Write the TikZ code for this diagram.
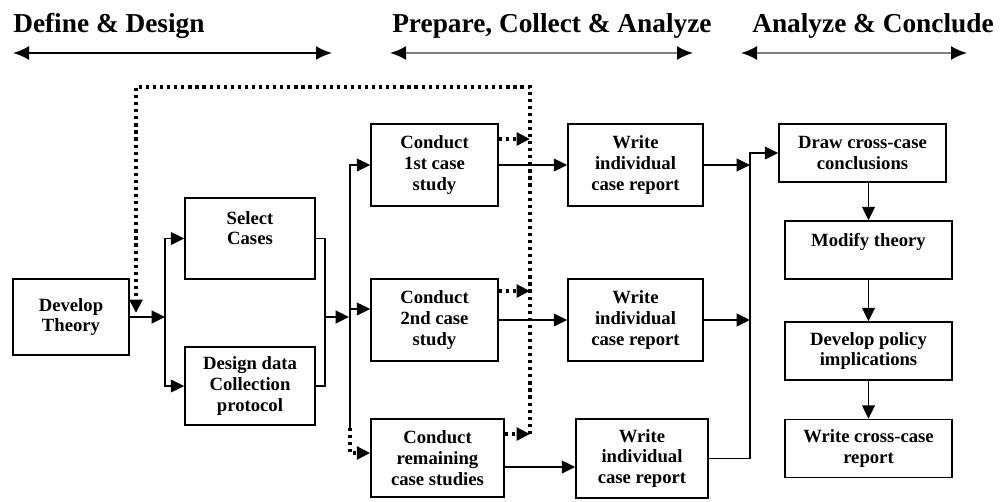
\documentclass[tikz,border=0pt]{standalone}
\usepackage{fontspec}
\setmainfont{Liberation Serif}
\usetikzlibrary{arrows.meta,calc}
\begin{document}
\begin{tikzpicture}[x=0.75pt,y=-0.75pt,
  box/.style={draw, line width=1.2pt, align=center, inner sep=0pt, font=\bfseries\fontsize{14}{15.5}\selectfont},
  arr/.style={line width=1.2pt, -{Triangle[length=10pt,width=9.5pt]}},
  ln/.style={line width=1.2pt},
  dotarr/.style={line width=2.6pt, dash pattern=on 2.4pt off 2.9pt, -{Triangle[length=10pt,width=9.5pt]}},
  head/.style={font=\bfseries\fontsize{20.5}{22}\selectfont, anchor=base west, inner sep=0pt},
  harr/.style={line width=1.6pt, {Latex[length=12pt,width=10.5pt]}-{Latex[length=12pt,width=10.5pt]}},
  harrg/.style={line width=1.6pt, draw=black!50, {Latex[length=12pt,width=10.5pt,color=black]}-{Latex[length=12pt,width=10.5pt,color=black]}},
]
\useasboundingbox (0,0) rectangle (1000,501);

% headings
\node[head] (t1) at (13,32) {Define \& Design};
\node[head] (t2) at (392,32) {Prepare, Collect \& Analyze};
\node[head] (t3) at (752,32) {Analyze \& Conclude};
\coordinate (h1a) at (13,53);  \coordinate (h1b) at (332,53);
\coordinate (h2a) at (390,53); \coordinate (h2b) at (693,53);
\coordinate (h3a) at (741,53); \coordinate (h3b) at (967,53);
\draw[harr] (h1a) -- (h1b);
\draw[harrg] (h2a) -- (h2b);
\draw[harrg] (h3a) -- (h3b);

% boxes
\node[box, minimum width=87pt, minimum height=57pt] (theory) at (71,317) {Develop\\Theory};
\node[box, minimum width=97.5pt, minimum height=60.75pt] (select) at (250,238.5) {Select\\Cases\\~};
\node[box, minimum width=97.5pt, minimum height=58.5pt] (design) at (250,386) {Design data\\Collection\\protocol};
\node[box, minimum width=95.25pt, minimum height=61.5pt] (c1) at (434.5,165) {Conduct\\1st case\\study};
\node[box, minimum width=95.25pt, minimum height=61.5pt] (c2) at (434.5,320) {Conduct\\2nd case\\study};
\node[box, minimum width=99.75pt, minimum height=58.5pt] (c3) at (437.5,458) {Conduct\\remaining\\case studies};
\node[box, minimum width=101.25pt, minimum height=61.5pt] (w1) at (635.5,165) {Write\\individual\\case report};
\node[box, minimum width=101.25pt, minimum height=61.5pt] (w2) at (635.5,320) {Write\\individual\\case report};
\node[box, minimum width=99pt, minimum height=59.25pt] (w3) at (642,458.5) {Write\\individual\\case report};
\node[box, minimum width=125.25pt, minimum height=43.5pt] (d1) at (862.5,153) {Draw cross-case\\conclusions};
\node[box, minimum width=125.25pt, minimum height=43.5pt] (d2) at (868.5,250) {Modify theory\\~};
\node[box, minimum width=125.25pt, minimum height=43.5pt] (d3) at (868.5,351) {Develop policy\\implications};
\node[box, minimum width=125.25pt, minimum height=43.5pt] (d4) at (868.5,448.5) {Write cross-case\\report};

% define & design connectors
\coordinate (b1) at (165,317);
\draw[arr] (theory.east) -- (b1);
\draw[arr] (b1) |- (select.west);
\draw[arr] (b1) |- (design.west);
\coordinate (m) at (325,317);
\draw[ln] (select.east) -| (m);
\draw[ln] (design.east) -| (m);
\coordinate (bus) at (349,317);
\draw[arr] (m) -- (bus);

% bus to conduct boxes
\coordinate (busbot) at (350,428);
\draw[arr] (busbot) |- (c1.west);
\coordinate (c2in) at ($(c2.west)+(0,-11)$);
\draw[arr] (c2in -| busbot) -- (c2in);
\coordinate (c3in) at ($(c3.west)+(0,-5)$);
\draw[dotarr] (busbot) |- (c3in);

% conduct to write
\draw[arr] (c1.east) -- (w1.west);
\draw[arr] (c2.east) -- (w2.west);
\coordinate (c3out) at ($(c3.east)+(0,9)$);
\draw[arr] (c3out) -- (c3out -| w3.west);

% dotted feedback
\coordinate (fr) at (530,87);
\coordinate (fl) at (136,87);
\coordinate (fend) at (136,313);
\coordinate (fb1) at ($(c1.east)+(0,-26)$);
\coordinate (fb2) at ($(c2.east)+(0,-29)$);
\coordinate (fb3) at ($(c3.east)+(0,-24)$);
\draw[dotarr] (fb1) -- (fb1 -| fr);
\draw[dotarr] (fb2) -- (fb2 -| fr);
\draw[dotarr] (fb3) -- (fb3 -| fr);
\draw[dotarr] (fb3 -| fr) -- (fr) -- (fl) -- (fend);

% write to cross-case
\coordinate (jt) at (750,153);
\draw[arr] (w1.east) -- (w1.east -| jt);
\draw[arr] (w2.east) -- (w2.east -| jt);
\draw[arr] (w3.east) -| (jt) -- (d1.west);

% right column
\draw[arr] (d1.south -| d2.north) -- (d2.north);
\draw[arr] (d2.south) -- (d3.north);
\draw[arr] (d3.south) -- (d4.north);
\end{tikzpicture}
\end{document}
